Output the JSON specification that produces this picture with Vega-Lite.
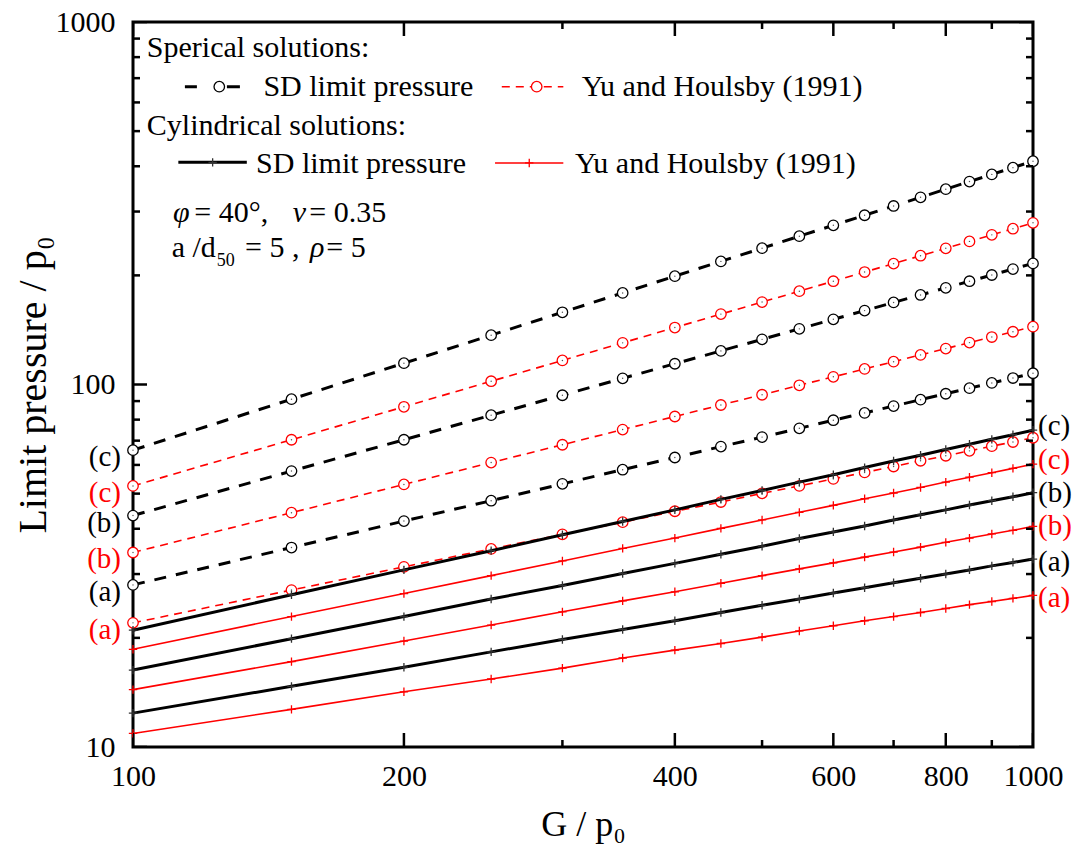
{
  "$schema": "https://vega.github.io/schema/vega-lite/v6.json",
  "autosize": {"type": "none"},
  "padding": {"left": 133, "top": 22, "right": 40, "bottom": 118},
  "width": 900,
  "height": 725,
  "background": "white",
  "config": {
    "font": "Liberation Serif",
    "view": {"stroke": "black", "strokeWidth": 3},
    "axis": {"grid": false, "domain": false, "ticks": false, "labelFont": "Liberation Serif", "labelFontSize": 30, "labelColor": "black", "titleFont": "Liberation Serif", "titleFontWeight": "normal", "titleColor": "black", "labelFlush": false, "labelOverlap": false}
  },
  "datasets": {
    "rows": [
      {"m":"SD","g":"sph","c":"(c)","G":100,"p":65.9},{"m":"SD","g":"sph","c":"(c)","G":150,"p":91.1},{"m":"SD","g":"sph","c":"(c)","G":200,"p":114.5},{"m":"SD","g":"sph","c":"(c)","G":250,"p":136.8},{"m":"SD","g":"sph","c":"(c)","G":300,"p":158.2},{"m":"SD","g":"sph","c":"(c)","G":350,"p":178.9},{"m":"SD","g":"sph","c":"(c)","G":400,"p":199.0},{"m":"SD","g":"sph","c":"(c)","G":450,"p":218.6},{"m":"SD","g":"sph","c":"(c)","G":500,"p":237.7},{"m":"SD","g":"sph","c":"(c)","G":550,"p":256.5},{"m":"SD","g":"sph","c":"(c)","G":600,"p":274.9},{"m":"SD","g":"sph","c":"(c)","G":650,"p":293.0},{"m":"SD","g":"sph","c":"(c)","G":700,"p":310.8},{"m":"SD","g":"sph","c":"(c)","G":750,"p":328.4},{"m":"SD","g":"sph","c":"(c)","G":800,"p":345.8},{"m":"SD","g":"sph","c":"(c)","G":850,"p":362.9},{"m":"SD","g":"sph","c":"(c)","G":900,"p":379.8},{"m":"SD","g":"sph","c":"(c)","G":950,"p":396.5},{"m":"SD","g":"sph","c":"(c)","G":1000,"p":413.0},
      {"m":"YH","g":"sph","c":"(c)","G":100,"p":52.5},{"m":"YH","g":"sph","c":"(c)","G":150,"p":70.4},{"m":"YH","g":"sph","c":"(c)","G":200,"p":86.8},{"m":"YH","g":"sph","c":"(c)","G":250,"p":102.1},{"m":"YH","g":"sph","c":"(c)","G":300,"p":116.5},{"m":"YH","g":"sph","c":"(c)","G":350,"p":130.3},{"m":"YH","g":"sph","c":"(c)","G":400,"p":143.6},{"m":"YH","g":"sph","c":"(c)","G":450,"p":156.4},{"m":"YH","g":"sph","c":"(c)","G":500,"p":168.8},{"m":"YH","g":"sph","c":"(c)","G":550,"p":180.9},{"m":"YH","g":"sph","c":"(c)","G":600,"p":192.7},{"m":"YH","g":"sph","c":"(c)","G":650,"p":204.3},{"m":"YH","g":"sph","c":"(c)","G":700,"p":215.5},{"m":"YH","g":"sph","c":"(c)","G":750,"p":226.6},{"m":"YH","g":"sph","c":"(c)","G":800,"p":237.5},{"m":"YH","g":"sph","c":"(c)","G":850,"p":248.2},{"m":"YH","g":"sph","c":"(c)","G":900,"p":258.7},{"m":"YH","g":"sph","c":"(c)","G":950,"p":269.0},{"m":"YH","g":"sph","c":"(c)","G":1000,"p":279.3},
      {"m":"SD","g":"sph","c":"(b)","G":100,"p":43.5},{"m":"SD","g":"sph","c":"(b)","G":150,"p":57.7},{"m":"SD","g":"sph","c":"(b)","G":200,"p":70.4},{"m":"SD","g":"sph","c":"(b)","G":250,"p":82.3},{"m":"SD","g":"sph","c":"(b)","G":300,"p":93.4},{"m":"SD","g":"sph","c":"(b)","G":350,"p":104.0},{"m":"SD","g":"sph","c":"(b)","G":400,"p":114.1},{"m":"SD","g":"sph","c":"(b)","G":450,"p":123.8},{"m":"SD","g":"sph","c":"(b)","G":500,"p":133.2},{"m":"SD","g":"sph","c":"(b)","G":550,"p":142.4},{"m":"SD","g":"sph","c":"(b)","G":600,"p":151.3},{"m":"SD","g":"sph","c":"(b)","G":650,"p":159.9},{"m":"SD","g":"sph","c":"(b)","G":700,"p":168.4},{"m":"SD","g":"sph","c":"(b)","G":750,"p":176.6},{"m":"SD","g":"sph","c":"(b)","G":800,"p":184.8},{"m":"SD","g":"sph","c":"(b)","G":850,"p":192.7},{"m":"SD","g":"sph","c":"(b)","G":900,"p":200.5},{"m":"SD","g":"sph","c":"(b)","G":950,"p":208.2},{"m":"SD","g":"sph","c":"(b)","G":1000,"p":215.8},
      {"m":"YH","g":"sph","c":"(b)","G":100,"p":34.4},{"m":"YH","g":"sph","c":"(b)","G":150,"p":44.3},{"m":"YH","g":"sph","c":"(b)","G":200,"p":53.0},{"m":"YH","g":"sph","c":"(b)","G":250,"p":60.9},{"m":"YH","g":"sph","c":"(b)","G":300,"p":68.2},{"m":"YH","g":"sph","c":"(b)","G":350,"p":75.1},{"m":"YH","g":"sph","c":"(b)","G":400,"p":81.6},{"m":"YH","g":"sph","c":"(b)","G":450,"p":87.8},{"m":"YH","g":"sph","c":"(b)","G":500,"p":93.7},{"m":"YH","g":"sph","c":"(b)","G":550,"p":99.5},{"m":"YH","g":"sph","c":"(b)","G":600,"p":105.0},{"m":"YH","g":"sph","c":"(b)","G":650,"p":110.4},{"m":"YH","g":"sph","c":"(b)","G":700,"p":115.6},{"m":"YH","g":"sph","c":"(b)","G":750,"p":120.7},{"m":"YH","g":"sph","c":"(b)","G":800,"p":125.6},{"m":"YH","g":"sph","c":"(b)","G":850,"p":130.5},{"m":"YH","g":"sph","c":"(b)","G":900,"p":135.2},{"m":"YH","g":"sph","c":"(b)","G":950,"p":139.8},{"m":"YH","g":"sph","c":"(b)","G":1000,"p":144.4},
      {"m":"SD","g":"sph","c":"(a)","G":100,"p":28.0},{"m":"SD","g":"sph","c":"(a)","G":150,"p":35.5},{"m":"SD","g":"sph","c":"(a)","G":200,"p":42.0},{"m":"SD","g":"sph","c":"(a)","G":250,"p":47.8},{"m":"SD","g":"sph","c":"(a)","G":300,"p":53.2},{"m":"SD","g":"sph","c":"(a)","G":350,"p":58.2},{"m":"SD","g":"sph","c":"(a)","G":400,"p":62.9},{"m":"SD","g":"sph","c":"(a)","G":450,"p":67.4},{"m":"SD","g":"sph","c":"(a)","G":500,"p":71.6},{"m":"SD","g":"sph","c":"(a)","G":550,"p":75.7},{"m":"SD","g":"sph","c":"(a)","G":600,"p":79.7},{"m":"SD","g":"sph","c":"(a)","G":650,"p":83.5},{"m":"SD","g":"sph","c":"(a)","G":700,"p":87.2},{"m":"SD","g":"sph","c":"(a)","G":750,"p":90.8},{"m":"SD","g":"sph","c":"(a)","G":800,"p":94.3},{"m":"SD","g":"sph","c":"(a)","G":850,"p":97.7},{"m":"SD","g":"sph","c":"(a)","G":900,"p":101.0},{"m":"SD","g":"sph","c":"(a)","G":950,"p":104.2},{"m":"SD","g":"sph","c":"(a)","G":1000,"p":107.4},
      {"m":"YH","g":"sph","c":"(a)","G":100,"p":22.0},{"m":"YH","g":"sph","c":"(a)","G":150,"p":27.1},{"m":"YH","g":"sph","c":"(a)","G":200,"p":31.4},{"m":"YH","g":"sph","c":"(a)","G":250,"p":35.2},{"m":"YH","g":"sph","c":"(a)","G":300,"p":38.6},{"m":"YH","g":"sph","c":"(a)","G":350,"p":41.7},{"m":"YH","g":"sph","c":"(a)","G":400,"p":44.7},{"m":"YH","g":"sph","c":"(a)","G":450,"p":47.4},{"m":"YH","g":"sph","c":"(a)","G":500,"p":50.1},{"m":"YH","g":"sph","c":"(a)","G":550,"p":52.5},{"m":"YH","g":"sph","c":"(a)","G":600,"p":54.9},{"m":"YH","g":"sph","c":"(a)","G":650,"p":57.2},{"m":"YH","g":"sph","c":"(a)","G":700,"p":59.4},{"m":"YH","g":"sph","c":"(a)","G":750,"p":61.6},{"m":"YH","g":"sph","c":"(a)","G":800,"p":63.6},{"m":"YH","g":"sph","c":"(a)","G":850,"p":65.6},{"m":"YH","g":"sph","c":"(a)","G":900,"p":67.6},{"m":"YH","g":"sph","c":"(a)","G":950,"p":69.4},{"m":"YH","g":"sph","c":"(a)","G":1000,"p":71.3},
      {"m":"SD","g":"cyl","c":"(c)","G":100,"p":21.0},{"m":"SD","g":"cyl","c":"(c)","G":150,"p":26.3},{"m":"SD","g":"cyl","c":"(c)","G":200,"p":30.8},{"m":"SD","g":"cyl","c":"(c)","G":250,"p":34.8},{"m":"SD","g":"cyl","c":"(c)","G":300,"p":38.5},{"m":"SD","g":"cyl","c":"(c)","G":350,"p":41.9},{"m":"SD","g":"cyl","c":"(c)","G":400,"p":45.1},{"m":"SD","g":"cyl","c":"(c)","G":450,"p":48.2},{"m":"SD","g":"cyl","c":"(c)","G":500,"p":51.0},{"m":"SD","g":"cyl","c":"(c)","G":550,"p":53.8},{"m":"SD","g":"cyl","c":"(c)","G":600,"p":56.4},{"m":"SD","g":"cyl","c":"(c)","G":650,"p":59.0},{"m":"SD","g":"cyl","c":"(c)","G":700,"p":61.5},{"m":"SD","g":"cyl","c":"(c)","G":750,"p":63.8},{"m":"SD","g":"cyl","c":"(c)","G":800,"p":66.2},{"m":"SD","g":"cyl","c":"(c)","G":850,"p":68.4},{"m":"SD","g":"cyl","c":"(c)","G":900,"p":70.6},{"m":"SD","g":"cyl","c":"(c)","G":950,"p":72.7},{"m":"SD","g":"cyl","c":"(c)","G":1000,"p":74.8},
      {"m":"YH","g":"cyl","c":"(c)","G":100,"p":18.6},{"m":"YH","g":"cyl","c":"(c)","G":150,"p":22.9},{"m":"YH","g":"cyl","c":"(c)","G":200,"p":26.5},{"m":"YH","g":"cyl","c":"(c)","G":250,"p":29.7},{"m":"YH","g":"cyl","c":"(c)","G":300,"p":32.6},{"m":"YH","g":"cyl","c":"(c)","G":350,"p":35.3},{"m":"YH","g":"cyl","c":"(c)","G":400,"p":37.7},{"m":"YH","g":"cyl","c":"(c)","G":450,"p":40.1},{"m":"YH","g":"cyl","c":"(c)","G":500,"p":42.3},{"m":"YH","g":"cyl","c":"(c)","G":550,"p":44.4},{"m":"YH","g":"cyl","c":"(c)","G":600,"p":46.4},{"m":"YH","g":"cyl","c":"(c)","G":650,"p":48.4},{"m":"YH","g":"cyl","c":"(c)","G":700,"p":50.2},{"m":"YH","g":"cyl","c":"(c)","G":750,"p":52.0},{"m":"YH","g":"cyl","c":"(c)","G":800,"p":53.8},{"m":"YH","g":"cyl","c":"(c)","G":850,"p":55.5},{"m":"YH","g":"cyl","c":"(c)","G":900,"p":57.1},{"m":"YH","g":"cyl","c":"(c)","G":950,"p":58.7},{"m":"YH","g":"cyl","c":"(c)","G":1000,"p":60.3},
      {"m":"SD","g":"cyl","c":"(b)","G":100,"p":16.3},{"m":"SD","g":"cyl","c":"(b)","G":150,"p":19.9},{"m":"SD","g":"cyl","c":"(b)","G":200,"p":22.9},{"m":"SD","g":"cyl","c":"(b)","G":250,"p":25.6},{"m":"SD","g":"cyl","c":"(b)","G":300,"p":27.9},{"m":"SD","g":"cyl","c":"(b)","G":350,"p":30.1},{"m":"SD","g":"cyl","c":"(b)","G":400,"p":32.1},{"m":"SD","g":"cyl","c":"(b)","G":450,"p":34.0},{"m":"SD","g":"cyl","c":"(b)","G":500,"p":35.8},{"m":"SD","g":"cyl","c":"(b)","G":550,"p":37.6},{"m":"SD","g":"cyl","c":"(b)","G":600,"p":39.2},{"m":"SD","g":"cyl","c":"(b)","G":650,"p":40.7},{"m":"SD","g":"cyl","c":"(b)","G":700,"p":42.3},{"m":"SD","g":"cyl","c":"(b)","G":750,"p":43.7},{"m":"SD","g":"cyl","c":"(b)","G":800,"p":45.1},{"m":"SD","g":"cyl","c":"(b)","G":850,"p":46.5},{"m":"SD","g":"cyl","c":"(b)","G":900,"p":47.8},{"m":"SD","g":"cyl","c":"(b)","G":950,"p":49.0},{"m":"SD","g":"cyl","c":"(b)","G":1000,"p":50.3},
      {"m":"YH","g":"cyl","c":"(b)","G":100,"p":14.4},{"m":"YH","g":"cyl","c":"(b)","G":150,"p":17.2},{"m":"YH","g":"cyl","c":"(b)","G":200,"p":19.6},{"m":"YH","g":"cyl","c":"(b)","G":250,"p":21.7},{"m":"YH","g":"cyl","c":"(b)","G":300,"p":23.6},{"m":"YH","g":"cyl","c":"(b)","G":350,"p":25.3},{"m":"YH","g":"cyl","c":"(b)","G":400,"p":26.8},{"m":"YH","g":"cyl","c":"(b)","G":450,"p":28.3},{"m":"YH","g":"cyl","c":"(b)","G":500,"p":29.7},{"m":"YH","g":"cyl","c":"(b)","G":550,"p":31.0},{"m":"YH","g":"cyl","c":"(b)","G":600,"p":32.2},{"m":"YH","g":"cyl","c":"(b)","G":650,"p":33.4},{"m":"YH","g":"cyl","c":"(b)","G":700,"p":34.5},{"m":"YH","g":"cyl","c":"(b)","G":750,"p":35.6},{"m":"YH","g":"cyl","c":"(b)","G":800,"p":36.7},{"m":"YH","g":"cyl","c":"(b)","G":850,"p":37.7},{"m":"YH","g":"cyl","c":"(b)","G":900,"p":38.7},{"m":"YH","g":"cyl","c":"(b)","G":950,"p":39.6},{"m":"YH","g":"cyl","c":"(b)","G":1000,"p":40.6},
      {"m":"SD","g":"cyl","c":"(a)","G":100,"p":12.4},{"m":"SD","g":"cyl","c":"(a)","G":150,"p":14.7},{"m":"SD","g":"cyl","c":"(a)","G":200,"p":16.6},{"m":"SD","g":"cyl","c":"(a)","G":250,"p":18.3},{"m":"SD","g":"cyl","c":"(a)","G":300,"p":19.8},{"m":"SD","g":"cyl","c":"(a)","G":350,"p":21.1},{"m":"SD","g":"cyl","c":"(a)","G":400,"p":22.3},{"m":"SD","g":"cyl","c":"(a)","G":450,"p":23.5},{"m":"SD","g":"cyl","c":"(a)","G":500,"p":24.6},{"m":"SD","g":"cyl","c":"(a)","G":550,"p":25.6},{"m":"SD","g":"cyl","c":"(a)","G":600,"p":26.6},{"m":"SD","g":"cyl","c":"(a)","G":650,"p":27.5},{"m":"SD","g":"cyl","c":"(a)","G":700,"p":28.4},{"m":"SD","g":"cyl","c":"(a)","G":750,"p":29.2},{"m":"SD","g":"cyl","c":"(a)","G":800,"p":30.0},{"m":"SD","g":"cyl","c":"(a)","G":850,"p":30.8},{"m":"SD","g":"cyl","c":"(a)","G":900,"p":31.6},{"m":"SD","g":"cyl","c":"(a)","G":950,"p":32.3},{"m":"SD","g":"cyl","c":"(a)","G":1000,"p":33.0},
      {"m":"YH","g":"cyl","c":"(a)","G":100,"p":10.9},{"m":"YH","g":"cyl","c":"(a)","G":150,"p":12.7},{"m":"YH","g":"cyl","c":"(a)","G":200,"p":14.2},{"m":"YH","g":"cyl","c":"(a)","G":250,"p":15.4},{"m":"YH","g":"cyl","c":"(a)","G":300,"p":16.5},{"m":"YH","g":"cyl","c":"(a)","G":350,"p":17.6},{"m":"YH","g":"cyl","c":"(a)","G":400,"p":18.5},{"m":"YH","g":"cyl","c":"(a)","G":450,"p":19.3},{"m":"YH","g":"cyl","c":"(a)","G":500,"p":20.1},{"m":"YH","g":"cyl","c":"(a)","G":550,"p":20.9},{"m":"YH","g":"cyl","c":"(a)","G":600,"p":21.6},{"m":"YH","g":"cyl","c":"(a)","G":650,"p":22.3},{"m":"YH","g":"cyl","c":"(a)","G":700,"p":22.9},{"m":"YH","g":"cyl","c":"(a)","G":750,"p":23.5},{"m":"YH","g":"cyl","c":"(a)","G":800,"p":24.1},{"m":"YH","g":"cyl","c":"(a)","G":850,"p":24.7},{"m":"YH","g":"cyl","c":"(a)","G":900,"p":25.2},{"m":"YH","g":"cyl","c":"(a)","G":950,"p":25.7},{"m":"YH","g":"cyl","c":"(a)","G":1000,"p":26.2},
      {"t":"x","G":100,"p":10,"k":"major"},{"t":"x","G":200,"p":10,"k":"major"},{"t":"x","G":300,"p":10,"k":"minor"},{"t":"x","G":400,"p":10,"k":"major"},{"t":"x","G":500,"p":10,"k":"minor"},{"t":"x","G":600,"p":10,"k":"major"},{"t":"x","G":700,"p":10,"k":"minor"},{"t":"x","G":800,"p":10,"k":"major"},{"t":"x","G":900,"p":10,"k":"minor"},{"t":"x","G":1000,"p":10,"k":"major"},
      {"t":"y","G":100,"p":10,"k":"major"},{"t":"y","G":100,"p":20,"k":"minor"},{"t":"y","G":100,"p":30,"k":"minor"},{"t":"y","G":100,"p":40,"k":"minor"},{"t":"y","G":100,"p":50,"k":"minor"},{"t":"y","G":100,"p":60,"k":"minor"},{"t":"y","G":100,"p":70,"k":"minor"},{"t":"y","G":100,"p":80,"k":"minor"},{"t":"y","G":100,"p":90,"k":"minor"},
      {"t":"y","G":100,"p":100,"k":"major"},{"t":"y","G":100,"p":200,"k":"minor"},{"t":"y","G":100,"p":300,"k":"minor"},{"t":"y","G":100,"p":400,"k":"minor"},{"t":"y","G":100,"p":500,"k":"minor"},{"t":"y","G":100,"p":600,"k":"minor"},{"t":"y","G":100,"p":700,"k":"minor"},{"t":"y","G":100,"p":800,"k":"minor"},{"t":"y","G":100,"p":900,"k":"minor"},{"t":"y","G":100,"p":1000,"k":"major"}
    ]
  },
  "data": {"name": "rows"},
  "encoding": {
    "x": {"field": "G", "type": "quantitative", "scale": {"type": "log", "domain": [100, 1000], "nice": false},
          "axis": {"values": [100, 200, 400, 600, 800, 1000], "format": "d", "labelPadding": 14, "title": "G / p₀", "titleFontSize": 36, "titlePadding": 16}},
    "y": {"field": "p", "type": "quantitative", "scale": {"type": "log", "domain": [10, 1000], "nice": false},
          "axis": {"values": [10, 100, 1000], "format": "d", "labelPadding": 18, "title": "Limit pressure / p₀", "titleFontSize": 40, "titlePadding": 2}}
  },
  "layer": [
    {"transform": [{"filter": "datum.m === 'SD' && datum.g === 'sph'"}],
     "mark": {"type": "line", "color": "black", "strokeWidth": 3, "strokeDash": [12, 10]},
     "encoding": {"detail": {"field": "c"}}},
    {"transform": [{"filter": "datum.m === 'SD' && datum.g === 'sph'"}],
     "mark": {"type": "point", "shape": "circle", "size": 110, "filled": true, "fill": "white", "stroke": "black", "strokeWidth": 1.3, "opacity": 1}},
    {"transform": [{"filter": "datum.m === 'YH' && datum.g === 'sph'"}],
     "mark": {"type": "line", "color": "#ff0000", "strokeWidth": 1.6, "strokeDash": [8, 6]},
     "encoding": {"detail": {"field": "c"}}},
    {"transform": [{"filter": "datum.m === 'YH' && datum.g === 'sph'"}],
     "mark": {"type": "point", "shape": "circle", "size": 110, "filled": true, "fill": "white", "stroke": "#ff0000", "strokeWidth": 1.3, "opacity": 1}},
    {"transform": [{"filter": "datum.g === 'sph'"}],
     "mark": {"type": "point", "shape": "circle", "size": 2, "filled": true, "color": "#555555", "opacity": 1}},
    {"transform": [{"filter": "datum.m === 'SD' && datum.g === 'cyl'"}],
     "mark": {"type": "line", "color": "black", "strokeWidth": 3},
     "encoding": {"detail": {"field": "c"}}},
    {"transform": [{"filter": "datum.m === 'SD' && datum.g === 'cyl'"}],
     "mark": {"type": "point", "shape": "M-1,0H1M0,-1V1", "size": 70, "filled": false, "stroke": "#333333", "strokeWidth": 1.3, "opacity": 1}},
    {"transform": [{"filter": "datum.m === 'YH' && datum.g === 'cyl'"}],
     "mark": {"type": "line", "color": "#ff0000", "strokeWidth": 1.6},
     "encoding": {"detail": {"field": "c"}}},
    {"transform": [{"filter": "datum.m === 'YH' && datum.g === 'cyl'"}],
     "mark": {"type": "point", "shape": "M-1,0H1M0,-1V1", "size": 70, "filled": false, "stroke": "#ff0000", "strokeWidth": 1.3, "opacity": 1}},
    {"transform": [{"filter": "datum.g === 'sph' && datum.G === 100"}],
     "mark": {"type": "text", "align": "right", "baseline": "middle", "dx": -12, "dy": 7, "fontSize": 29},
     "encoding": {"text": {"field": "c"}, "color": {"field": "m", "type": "nominal", "scale": {"domain": ["SD", "YH"], "range": ["black", "#ff0000"]}, "legend": null}}},
    {"transform": [{"filter": "datum.g === 'cyl' && datum.G === 1000 && datum.c === '(c)'"}],
     "mark": {"type": "text", "align": "left", "baseline": "middle", "dx": 5, "dy": -4, "fontSize": 29},
     "encoding": {"text": {"field": "c"}, "color": {"field": "m", "type": "nominal", "scale": {"domain": ["SD", "YH"], "range": ["black", "#ff0000"]}, "legend": null}}},
    {"transform": [{"filter": "datum.g === 'cyl' && datum.G === 1000 && datum.c === '(b)'"}],
     "mark": {"type": "text", "align": "left", "baseline": "middle", "dx": 5, "dy": 0, "fontSize": 29},
     "encoding": {"text": {"field": "c"}, "color": {"field": "m", "type": "nominal", "scale": {"domain": ["SD", "YH"], "range": ["black", "#ff0000"]}, "legend": null}}},
    {"transform": [{"filter": "datum.g === 'cyl' && datum.G === 1000 && datum.c === '(a)'"}],
     "mark": {"type": "text", "align": "left", "baseline": "middle", "dx": 5, "dy": 3, "fontSize": 29},
     "encoding": {"text": {"field": "c"}, "color": {"field": "m", "type": "nominal", "scale": {"domain": ["SD", "YH"], "range": ["black", "#ff0000"]}, "legend": null}}},
    {"transform": [{"filter": "datum.t === 'x'"}],
     "mark": {"type": "tick", "orient": "vertical", "clip": true, "color": "black", "thickness": 2.5, "opacity": 1},
     "encoding": {"size": {"field": "k", "type": "nominal", "scale": {"domain": ["major", "minor"], "range": [28, 14]}, "legend": null}}},
    {"transform": [{"filter": "datum.t === 'x'"}],
     "mark": {"type": "tick", "orient": "vertical", "clip": true, "color": "black", "thickness": 2.5, "opacity": 1},
     "encoding": {"y": {"datum": 1000, "type": "quantitative"}, "size": {"field": "k", "type": "nominal", "scale": {"domain": ["major", "minor"], "range": [28, 14]}, "legend": null}}},
    {"transform": [{"filter": "datum.t === 'y'"}],
     "mark": {"type": "tick", "orient": "horizontal", "clip": true, "color": "black", "thickness": 2.5, "opacity": 1},
     "encoding": {"size": {"field": "k", "type": "nominal", "scale": {"domain": ["major", "minor"], "range": [28, 14]}, "legend": null}}},
    {"transform": [{"filter": "datum.t === 'y'"}],
     "mark": {"type": "tick", "orient": "horizontal", "clip": true, "color": "black", "thickness": 2.5, "opacity": 1},
     "encoding": {"x": {"datum": 1000, "type": "quantitative"}, "size": {"field": "k", "type": "nominal", "scale": {"domain": ["major", "minor"], "range": [28, 14]}, "legend": null}}},
    {"transform": [{"filter": "datum.m === 'SD' && datum.g === 'sph' && datum.c === '(c)' && datum.G === 100"}],
     "layer": [
      {"mark": {"type": "text", "text": "Sperical solutions:", "align": "left", "baseline": "alphabetic", "fontSize": 30, "color": "black"},
       "encoding": {"x": {"datum": 103.6, "type": "quantitative"}, "y": {"datum": 800, "type": "quantitative"}}},
      {"mark": {"type": "rule", "color": "black", "strokeWidth": 3, "strokeDash": [12, 30, 13, 100]},
       "encoding": {"x": {"datum": 114.2, "type": "quantitative"}, "x2": {"datum": 131.5}, "y": {"datum": 663, "type": "quantitative"}}},
      {"mark": {"type": "point", "shape": "circle", "size": 110, "filled": true, "fill": "white", "stroke": "black", "strokeWidth": 1.3, "opacity": 1},
       "encoding": {"x": {"datum": 124.7, "type": "quantitative"}, "y": {"datum": 663, "type": "quantitative"}}},
      {"mark": {"type": "text", "text": "SD limit pressure", "align": "left", "baseline": "alphabetic", "fontSize": 30, "color": "black"},
       "encoding": {"x": {"datum": 139.6, "type": "quantitative"}, "y": {"datum": 623, "type": "quantitative"}}},
      {"mark": {"type": "rule", "color": "#ff0000", "strokeWidth": 1.6, "strokeDash": [8, 6]},
       "encoding": {"x": {"datum": 256.9, "type": "quantitative"}, "x2": {"datum": 300.7}, "y": {"datum": 663, "type": "quantitative"}}},
      {"mark": {"type": "point", "shape": "circle", "size": 110, "filled": true, "fill": "white", "stroke": "#ff0000", "strokeWidth": 1.3, "opacity": 1},
       "encoding": {"x": {"datum": 280.9, "type": "quantitative"}, "y": {"datum": 663, "type": "quantitative"}}},
      {"mark": {"type": "text", "text": "Yu and Houlsby (1991)", "align": "left", "baseline": "alphabetic", "fontSize": 30, "color": "black"},
       "encoding": {"x": {"datum": 315.2, "type": "quantitative"}, "y": {"datum": 623, "type": "quantitative"}}},
      {"mark": {"type": "text", "text": "Cylindrical solutions:", "align": "left", "baseline": "alphabetic", "fontSize": 30, "color": "black"},
       "encoding": {"x": {"datum": 103.6, "type": "quantitative"}, "y": {"datum": 488, "type": "quantitative"}}},
      {"mark": {"type": "rule", "color": "black", "strokeWidth": 3},
       "encoding": {"x": {"datum": 112.3, "type": "quantitative"}, "x2": {"datum": 133.8}, "y": {"datum": 410, "type": "quantitative"}}},
      {"mark": {"type": "point", "shape": "M-1,0H1M0,-1V1", "size": 70, "filled": false, "stroke": "#333333", "strokeWidth": 1.3, "opacity": 1},
       "encoding": {"x": {"datum": 122.6, "type": "quantitative"}, "y": {"datum": 410, "type": "quantitative"}}},
      {"mark": {"type": "text", "text": "SD limit pressure", "align": "left", "baseline": "alphabetic", "fontSize": 30, "color": "black"},
       "encoding": {"x": {"datum": 137.0, "type": "quantitative"}, "y": {"datum": 383, "type": "quantitative"}}},
      {"mark": {"type": "rule", "color": "#ff0000", "strokeWidth": 1.6},
       "encoding": {"x": {"datum": 252.5, "type": "quantitative"}, "x2": {"datum": 300.7}, "y": {"datum": 408.5, "type": "quantitative"}}},
      {"mark": {"type": "point", "shape": "M-1,0H1M0,-1V1", "size": 70, "filled": false, "stroke": "#ff0000", "strokeWidth": 1.3, "opacity": 1},
       "encoding": {"x": {"datum": 275.6, "type": "quantitative"}, "y": {"datum": 408.5, "type": "quantitative"}}},
      {"mark": {"type": "text", "text": "Yu and Houlsby (1991)", "align": "left", "baseline": "alphabetic", "fontSize": 30, "color": "black"},
       "encoding": {"x": {"datum": 309.8, "type": "quantitative"}, "y": {"datum": 383, "type": "quantitative"}}},
      {"mark": {"type": "text", "text": "φ", "align": "left", "baseline": "alphabetic", "fontSize": 30, "fontStyle": "italic", "color": "black"},
       "encoding": {"x": {"datum": 110.8, "type": "quantitative"}, "y": {"datum": 281, "type": "quantitative"}}},
      {"mark": {"type": "text", "text": "= 40°,", "align": "left", "baseline": "alphabetic", "fontSize": 30, "color": "black"},
       "encoding": {"x": {"datum": 117.0, "type": "quantitative"}, "y": {"datum": 281, "type": "quantitative"}}},
      {"mark": {"type": "text", "text": "ν", "align": "left", "baseline": "alphabetic", "fontSize": 30, "fontStyle": "italic", "color": "black"},
       "encoding": {"x": {"datum": 150.5, "type": "quantitative"}, "y": {"datum": 281, "type": "quantitative"}}},
      {"mark": {"type": "text", "text": "= 0.35", "align": "left", "baseline": "alphabetic", "fontSize": 30, "color": "black"},
       "encoding": {"x": {"datum": 157.0, "type": "quantitative"}, "y": {"datum": 281, "type": "quantitative"}}},
      {"mark": {"type": "text", "text": "a /d", "align": "left", "baseline": "alphabetic", "fontSize": 30, "color": "black"},
       "encoding": {"x": {"datum": 110.4, "type": "quantitative"}, "y": {"datum": 225, "type": "quantitative"}}},
      {"mark": {"type": "text", "text": "50", "align": "left", "baseline": "alphabetic", "fontSize": 18, "color": "black"},
       "encoding": {"x": {"datum": 123.9, "type": "quantitative"}, "y": {"datum": 212, "type": "quantitative"}}},
      {"mark": {"type": "text", "text": "= 5 ,", "align": "left", "baseline": "alphabetic", "fontSize": 30, "color": "black"},
       "encoding": {"x": {"datum": 133.2, "type": "quantitative"}, "y": {"datum": 225, "type": "quantitative"}}},
      {"mark": {"type": "text", "text": "ρ", "align": "left", "baseline": "alphabetic", "fontSize": 30, "fontStyle": "italic", "color": "black"},
       "encoding": {"x": {"datum": 157.3, "type": "quantitative"}, "y": {"datum": 225, "type": "quantitative"}}},
      {"mark": {"type": "text", "text": "= 5", "align": "left", "baseline": "alphabetic", "fontSize": 30, "color": "black"},
       "encoding": {"x": {"datum": 164.0, "type": "quantitative"}, "y": {"datum": 225, "type": "quantitative"}}}
     ]}
  ]
}
